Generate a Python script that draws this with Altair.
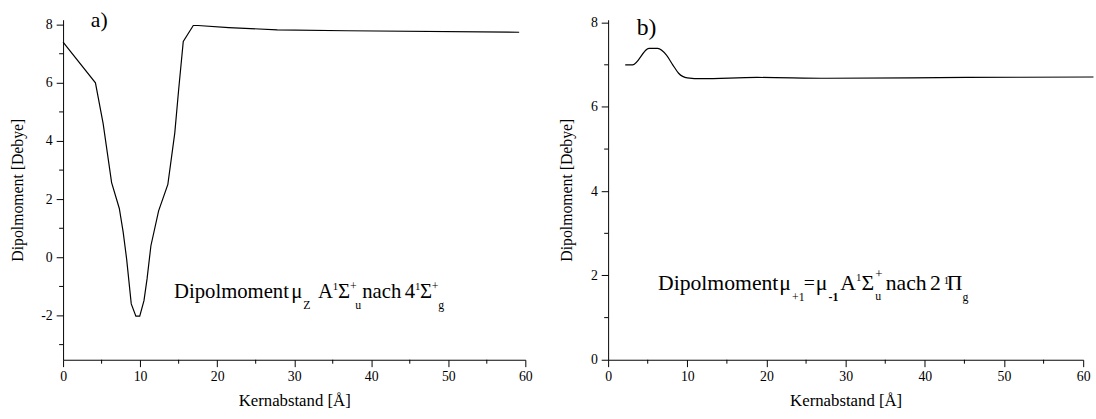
import altair as alt
import pandas as pd

FONT = "Liberation Serif, Times New Roman, DejaVu Serif, serif"

# ---- data ----
left_r = [0, 4.2, 5.2, 6.3, 7.3, 7.8, 8.25, 8.85, 9.45, 9.95, 10.5, 10.9, 11.4,
          12.4, 13.6, 14.5, 15.0, 15.6, 16.9, 17.5, 21.5, 27.8, 36.8, 59.2]
left_mu = [7.4, 6.0, 4.6, 2.57, 1.68, 0.87, -0.06, -1.6, -2.02, -2.02, -1.49, -0.74, 0.4,
           1.6, 2.51, 4.28, 5.76, 7.42, 7.97, 7.97, 7.9, 7.82, 7.79, 7.74]

right_r = [2.16, 3.09, 5.16, 6.26, 7.37, 8.16, 8.9, 10.0, 11.8, 18.8, 27.7, 45.3, 61.3]
right_mu = [7.0, 7.0, 7.39, 7.39, 7.23, 7.0, 6.8, 6.69, 6.67, 6.70, 6.68, 6.70, 6.71]

x_major = [0, 10, 20, 30, 40, 50, 60]
x_minor = [5, 15, 25, 35, 45, 55]
left_y_major = [-2, 0, 2, 4, 6, 8]
left_y_minor = [-3, -1, 1, 3, 5, 7]
right_y_major = [0, 2, 4, 6, 8]
right_y_minor = [1, 3, 5, 7]

# annotation pieces: (text, dx, dy, size, weight)
left_label = [
    ("Dipolmoment", 0, 0, 21, "normal"),
    ("\u03bc", 119, 0, 21, "normal"),
    ("Z", 131, 11, 12, "normal"),
    ("A", 146, 0, 21, "normal"),
    ("1", 161, -8, 11, "normal"),
    ("\u03a3", 166.5, 0, 21, "normal"),
    ("+", 178.5, -8, 12, "normal"),
    ("u", 184, 11, 12, "normal"),
    ("nach", 191, 0, 21, "normal"),
    ("4", 234, 0, 21, "normal"),
    ("1", 244.5, -8, 11, "normal"),
    ("\u03a3", 249.5, 0, 21, "normal"),
    ("+", 261.5, -8, 12, "normal"),
    ("g", 268, 11, 12, "normal"),
]
right_label = [
    ("Dipolmoment", 0, 0, 22, "normal"),
    ("\u03bc", 123, 0, 22, "normal"),
    ("+1", 136, 11, 12, "normal"),
    ("=", 148, -1, 20, "normal"),
    ("\u03bc", 160, 0, 22, "normal"),
    ("-1", 173, 11, 12, "bold"),
    ("A", 185, 0, 22, "normal"),
    ("1", 201, -9, 11, "normal"),
    ("\u03a3", 206.5, 0, 22, "normal"),
    ("+", 220.5, -12, 13, "normal"),
    ("u", 220.5, 10, 12, "normal"),
    ("nach", 231, 0, 22, "normal"),
    ("2", 276, 0, 22, "normal"),
    ("1", 290, -6, 11, "normal"),
    ("\u03a0", 293, 0, 22, "normal"),
    ("g", 309, 11, 12, "normal"),
]


def panel(r, mu, width, height, ydom, ymajor, yminor, ypad, tag, tag_pos, tag_size,
          label, label_pos, interp):
    df = pd.DataFrame({"r": r, "mu": mu})
    xs = alt.Scale(domain=[0, 60], nice=False, zero=False)
    ys = alt.Scale(domain=ydom, nice=False, zero=False)
    xaxis = alt.Axis(values=x_major, tickSize=7, labelPadding=3, titlePadding=9,
                     labelFlush=False, title="Kernabstand [\u00c5]")
    yaxis = alt.Axis(values=ymajor, tickSize=7, labelPadding=4, titlePadding=ypad,
                     labelExpr="'' + datum.value", title="Dipolmoment [Debye]")
    line = alt.Chart(df).mark_line(color="black", strokeWidth=1.2, clip=False,
                                   interpolate=interp).encode(
        x=alt.X("r:Q", scale=xs, axis=xaxis),
        y=alt.Y("mu:Q", scale=ys, axis=yaxis),
    )
    layers = [line]
    xmin_df = pd.DataFrame({"r": x_minor})
    layers.append(alt.Chart(xmin_df).mark_rule(color="black", strokeWidth=1).encode(
        x=alt.X("r:Q", scale=xs), y=alt.value(height), y2=alt.value(height + 4)))
    ymin_df = pd.DataFrame({"mu": yminor})
    layers.append(alt.Chart(ymin_df).mark_rule(color="black", strokeWidth=1).encode(
        y=alt.Y("mu:Q", scale=ys), x=alt.value(0), x2=alt.value(-4)))
    layers.append(alt.Chart().mark_text(text=tag, font=FONT, fontSize=tag_size,
                                        align="left", baseline="alphabetic",
                                        color="black").encode(
        x=alt.XDatum(tag_pos[0], scale=xs), y=alt.YDatum(tag_pos[1], scale=ys)))
    for txt, dx, dy, size, weight in label:
        layers.append(alt.Chart().mark_text(text=txt, font=FONT, fontSize=size,
                                            fontWeight=weight, dx=dx, dy=dy,
                                            align="left", baseline="alphabetic",
                                            color="black").encode(
            x=alt.XDatum(label_pos[0], scale=xs), y=alt.YDatum(label_pos[1], scale=ys)))
    return alt.layer(*layers).properties(width=width, height=height)


left = panel(left_r, left_mu, 469, 345, [-3.52, 8.17], left_y_major, left_y_minor, 16,
             "a)", (3.6, 7.93), 22, left_label, (14.4, -1.39), "linear")
right = panel(right_r, right_mu, 482, 345, [0, 8.07], right_y_major, right_y_minor, 16,
              "b)", (3.6, 7.71), 24, right_label, (6.3, 1.66), "monotone")

chart = alt.hconcat(left, right, spacing=84, bounds="flush").properties(
    padding={"left": 9, "top": 6, "right": 0, "bottom": 0}
).configure_view(stroke=None).configure_axis(
    grid=False, domainColor="black", tickColor="black", domainWidth=1, tickWidth=1,
    labelFont=FONT, labelFontSize=14, labelColor="black",
    titleFont=FONT, titleFontSize=16, titleFontWeight="normal", titleColor="black",
).configure_axisX(titleFontSize=17)

chart.save("out.html", embed_options={"renderer": "svg", "actions": False})
